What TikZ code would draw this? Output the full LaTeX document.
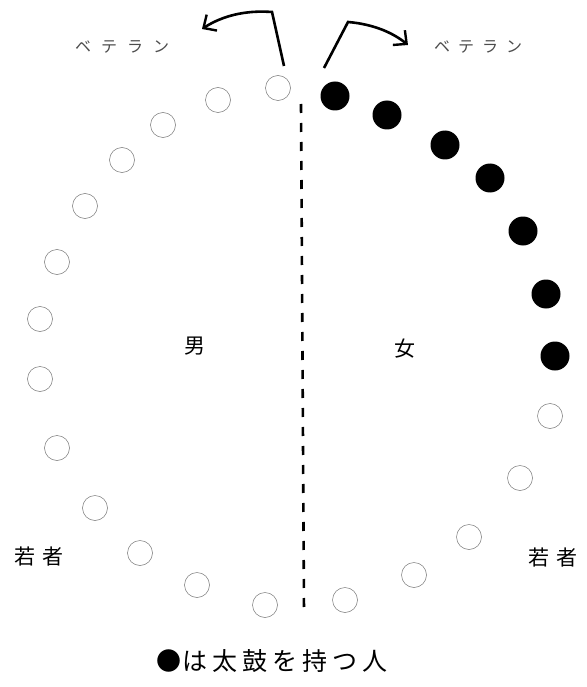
\documentclass[tikz,border=0pt]{standalone}
\usepackage{fontspec}
\newfontfamily\jp{Noto Sans CJK JP}
\usetikzlibrary{arrows.meta}
\tikzset{
  opendot/.style={circle,draw=black!55,line width=0.5pt,minimum size=25pt,inner sep=0pt},
  fulldot/.style={circle,fill=black,minimum size=29pt,inner sep=0pt},
  lbl/.style={font=\jp\fontsize{21}{21}\selectfont,inner sep=0pt},
  vet/.style={font=\jp\fontsize{16}{16}\selectfont,text=black!70,inner sep=0pt},
  turnarrow/.style={line width=2.6pt,-{Straight Barb[length=10pt,width=19pt,line width=2.4pt]}},
  divider/.style={line width=2.6pt,dash pattern=on 9pt off 10pt}
}
\begin{document}
\begin{tikzpicture}[x=1pt,y=-1pt]
\useasboundingbox (0,0) rectangle (586,687);
% open circles, left
\node[opendot] (l1) at (278,88) {};
\node[opendot] (l2) at (218,100) {};
\node[opendot] (l3) at (163,125) {};
\node[opendot] (l4) at (122,160) {};
\node[opendot] (l5) at (85,206) {};
\node[opendot] (l6) at (57,262) {};
\node[opendot] (l7) at (40,319) {};
\node[opendot] (l8) at (40,379) {};
\node[opendot] (l9) at (57,448) {};
\node[opendot] (l10) at (95,508) {};
\node[opendot] (l11) at (140,553) {};
\node[opendot] (l12) at (197,585) {};
\node[opendot] (l13) at (265,605) {};
% filled circles, right
\node[fulldot] (r1) at (335,96) {};
\node[fulldot] (r2) at (387,115) {};
\node[fulldot] (r3) at (445,145) {};
\node[fulldot] (r4) at (490,178) {};
\node[fulldot] (r5) at (523,231) {};
\node[fulldot] (r6) at (546,294) {};
\node[fulldot] (r7) at (555,356) {};
% open circles, right
\node[opendot] (r8) at (550,416) {};
\node[opendot] (r9) at (520,478) {};
\node[opendot] (r10) at (469,537) {};
\node[opendot] (r11) at (414,575) {};
\node[opendot] (r12) at (345,600) {};
% divider
\coordinate (dtop) at (301,104);
\coordinate (dbot) at (304,613);
\draw[divider] (dtop) -- (dbot);
% arrows
\coordinate (la) at (284,66);
\coordinate (lb) at (272,12);
\coordinate (lc) at (202,29);
\draw[turnarrow] (la) -- (lb) .. controls (245,10) and (222,16) .. (lc);
\coordinate (ra) at (324,68);
\coordinate (rb) at (348,22);
\coordinate (rc) at (408,45);
\draw[turnarrow] (ra) -- (rb) .. controls (372,24) and (392,32) .. (rc);
% labels
\node[vet] (vl) at (122,47) {ベ\hspace{10pt}テ\hspace{10pt}ラ\hspace{10pt}ン};
\node[vet] (vr) at (478,47) {ベ\hspace{8pt}テ\hspace{8pt}ラ\hspace{8pt}ン};
\node[lbl] (m) at (195,346) {男};
\node[lbl] (f) at (405,349) {女};
\node[lbl] (yl) at (39,557) {若\hspace{7pt}者};
\node[lbl] (yr) at (553,558) {若\hspace{7pt}者};
\node[font=\jp\fontsize{25}{25}\selectfont,inner sep=0pt] (legend) at (272,661) {●\hspace{1pt}は\hspace{5pt}太\hspace{5pt}鼓\hspace{5pt}を\hspace{5pt}持\hspace{5pt}つ\hspace{5pt}人};
\end{tikzpicture}
\end{document}
